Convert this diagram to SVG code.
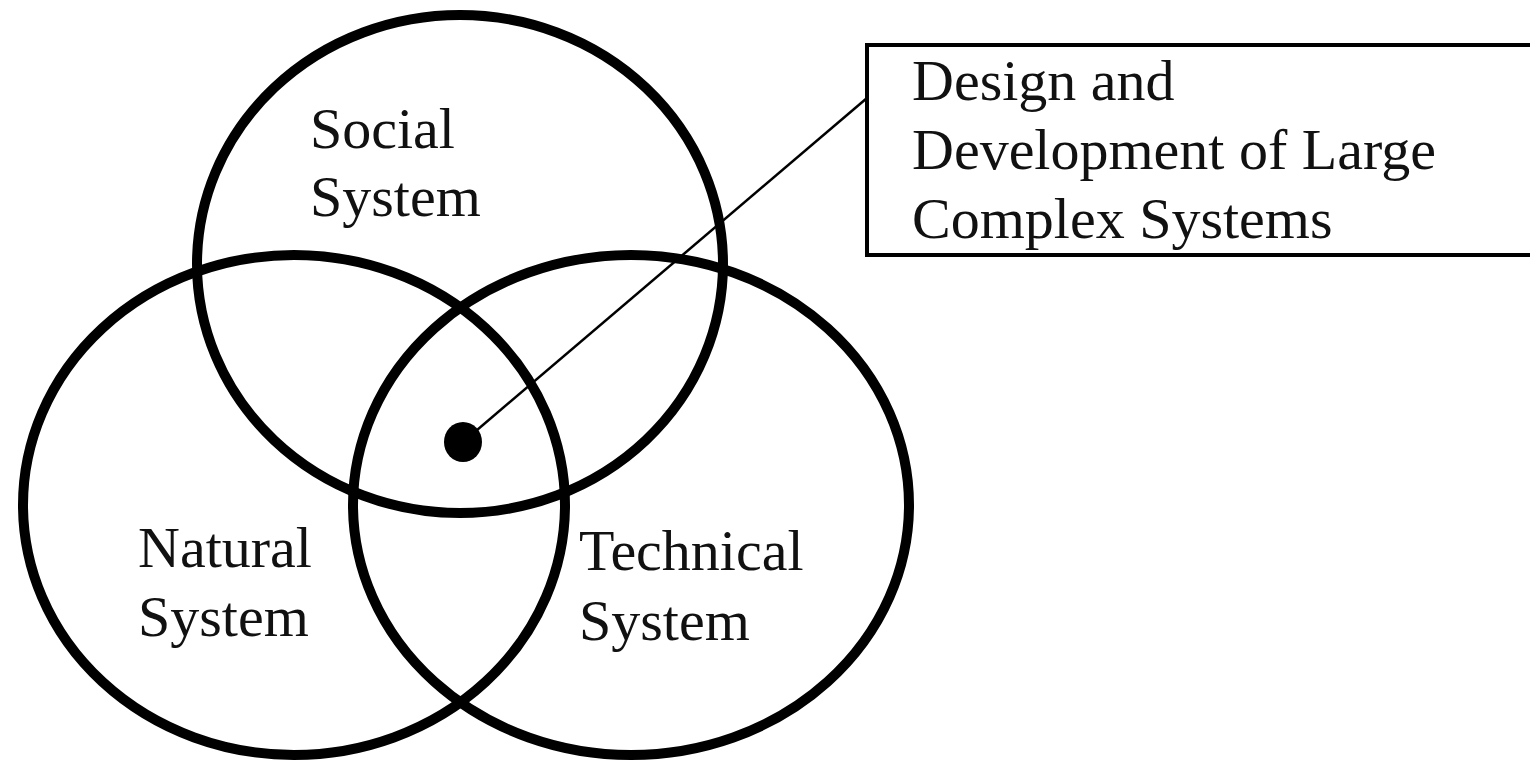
<svg xmlns="http://www.w3.org/2000/svg" width="1530" height="760" viewBox="0 0 1530 760">
  <style>
    .ring { fill: none; stroke: #000; stroke-width: 10; }
    .lbl { font-family: "Liberation Serif", "Times New Roman", serif; font-size: 58px; fill: #111; }
    .box { fill: #fff; stroke: #000; stroke-width: 4; }
    .conn { stroke: #000; stroke-width: 2.5; fill: none; }
  </style>
  <rect x="0" y="0" width="1530" height="760" fill="#fff"/>
  <g id="social-system">
    <ellipse class="ring" cx="460" cy="264" rx="263" ry="249"/>
    <text class="lbl" x="310" y="148">Social</text>
    <text class="lbl" x="310" y="216">System</text>
  </g>
  <g id="natural-system">
    <ellipse class="ring" cx="294" cy="505" rx="271" ry="250"/>
    <text class="lbl" x="138" y="567">Natural</text>
    <text class="lbl" x="138" y="636">System</text>
  </g>
  <g id="technical-system">
    <ellipse class="ring" cx="631" cy="505" rx="278" ry="250"/>
    <text class="lbl" x="579" y="570">Technical</text>
    <text class="lbl" x="579" y="640">System</text>
  </g>
  <g id="center-point">
    <ellipse cx="463" cy="442" rx="19" ry="20" fill="#000"/>
  </g>
  <g id="callout-box">
    <rect class="box" x="867" y="45" width="680" height="210"/>
    <text class="lbl" x="912" y="100">Design and</text>
    <text class="lbl" x="912" y="169">Development of Large</text>
    <text class="lbl" x="912" y="238">Complex Systems</text>
  </g>
  <g id="connectors">
    <line class="conn" x1="463" y1="442" x2="867" y2="98"/>
  </g>
</svg>
